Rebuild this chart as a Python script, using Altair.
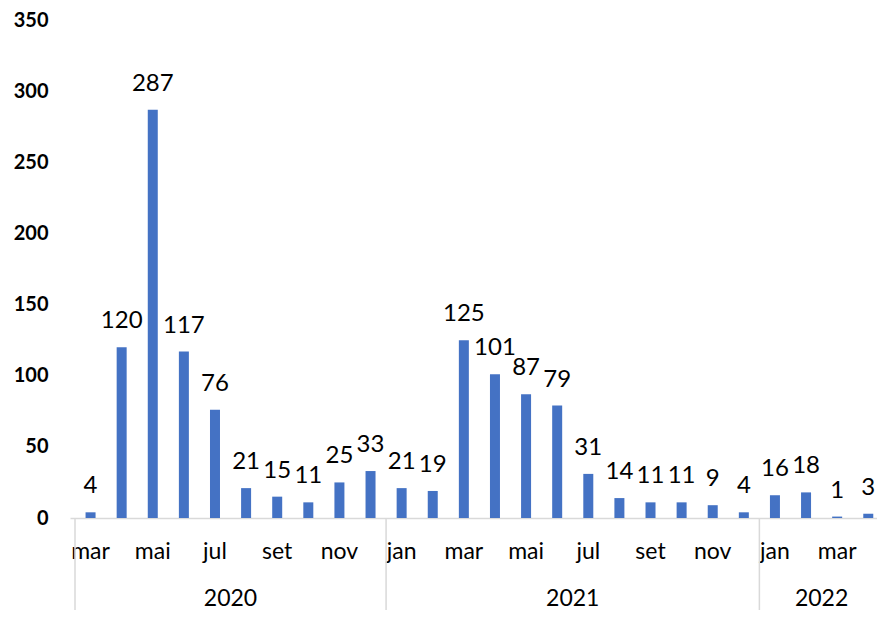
import altair as alt
import pandas as pd

months = ["mar", "abr", "mai", "jun", "jul", "ago", "set", "out", "nov", "dez",
          "jan", "fev", "mar", "abr", "mai", "jun", "jul", "ago", "set", "out", "nov", "dez",
          "jan", "fev", "mar", "abr"]
values = [4, 120, 287, 117, 76, 21, 15, 11, 25, 33,
          21, 19, 125, 101, 87, 79, 31, 14, 11, 11, 9, 4,
          16, 18, 1, 3]
year_labels = ["2020", "2021", "2022"]
year_start = [0, 10, 22]
year_end = [10, 22, 26]
y_ticks = [0, 50, 100, 150, 200, 250, 300, 350]

W, H = 807, 498
FONT = "Lato"

df = pd.DataFrame({
    "pos": [i + 0.5 for i in range(len(values))],
    "value": values,
    "month": months,
    "show": [i % 2 == 0 for i in range(len(values))],
})
mdf = df[df["show"]]
ydf = pd.DataFrame({
    "year": year_labels,
    "start": year_start,
    "mid": [(s + e) / 2 for s, e in zip(year_start, year_end)],
})

xscale = alt.Scale(domain=[0, 25.62], nice=False, zero=False)
yscale = alt.Scale(domain=[0, 350], nice=False)
xaxis = alt.Axis(labels=False, ticks=False, grid=False, title="",
                 domainColor="#d9d9d9", domainWidth=1.5)
yaxis = alt.Axis(values=y_ticks, domain=False, ticks=False, grid=False, title="",
                 labelFont=FONT, labelFontSize=20, labelFontWeight="bold",
                 labelColor="black", labelPadding=22)

bars = alt.Chart(df).mark_bar(size=10, color="#4472C4").encode(
    x=alt.X("pos:Q", scale=xscale, axis=xaxis),
    y=alt.Y("value:Q", scale=yscale, axis=yaxis),
)

labels = alt.Chart(df).mark_text(dy=-19, baseline="alphabetic", fontSize=24,
                                 font=FONT, color="black").encode(
    x=alt.X("pos:Q", scale=xscale, axis=xaxis),
    y=alt.Y("value:Q", scale=yscale, axis=yaxis),
    text="value:Q",
)

month_text = alt.Chart(mdf).mark_text(baseline="alphabetic", fontSize=23,
                                      font=FONT, color="black").encode(
    x=alt.X("pos:Q", scale=xscale, axis=xaxis),
    y=alt.value(H + 41),
    text="month:N",
)

year_text = alt.Chart(ydf).mark_text(baseline="alphabetic", fontSize=23,
                                     font=FONT, color="black").encode(
    x=alt.X("mid:Q", scale=xscale, axis=xaxis),
    y=alt.value(H + 88),
    text="year:N",
)

seps = alt.Chart(ydf).mark_rule(color="#d9d9d9", strokeWidth=1.5).encode(
    x=alt.X("start:Q", scale=xscale, axis=xaxis),
    y=alt.value(H),
    y2=alt.value(H + 92),
)

chart = alt.layer(bars, labels, month_text, year_text, seps).properties(
    width=W, height=H,
    autosize=alt.AutoSizeParams(type="none"),
    padding={"left": 62, "top": 12, "right": 0, "bottom": 92},
).configure_view(stroke=None)

chart.save("out.html", embed_options={"renderer": "svg", "actions": False})
